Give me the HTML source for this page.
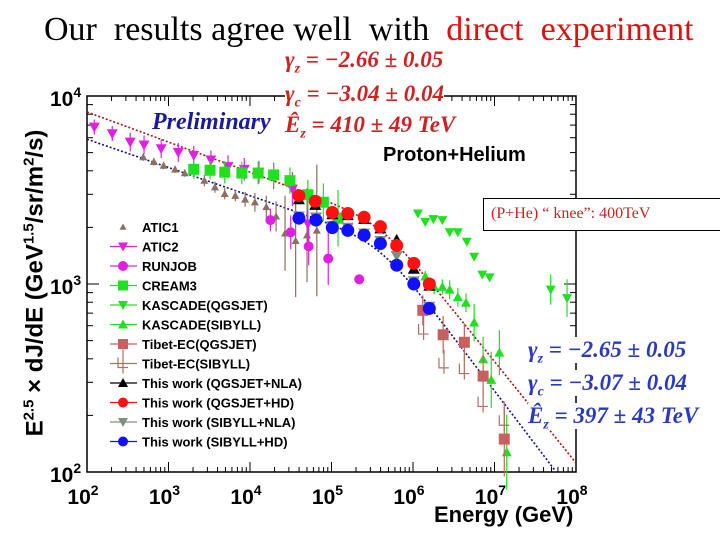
<!DOCTYPE html>
<html><head><meta charset="utf-8"><style>
body{margin:0;width:720px;height:540px;background:#fff;overflow:hidden;position:relative;font-family:"Liberation Sans",sans-serif}
.t{position:absolute;white-space:nowrap}
.f{position:absolute;white-space:nowrap;font:italic bold 23px 'Liberation Serif',serif;line-height:26px}
.f sub{font-size:14px;line-height:0}
</style></head><body>
<div class="t" style="left:44px;top:11px;font:34px 'Liberation Serif',serif;color:#000;line-height:38px">Our&nbsp; results agree well&nbsp; with&nbsp; <span style="color:#e01010">direct&nbsp; experiment</span></div>
<svg id="c" width="720" height="540" style="position:absolute;left:0;top:0"></svg>
<script>
// fit parameters
const fitRed = [-2.66, -3.04, 5.613, 3.915];
const fitBlue = [-2.65, -3.07, 5.599, 3.77];
// data (log10 E [GeV], log10 E^2.5 flux)
const atic1E = [2.69,2.82,2.94,3.08,3.20,3.44,3.57,3.69,3.82,3.94,4.06,4.20,4.32,4.43,4.56,4.70,4.82];
const atic1F = [3.675,3.65,3.63,3.61,3.59,3.55,3.515,3.48,3.47,3.45,3.435,3.41,3.36,3.27,3.23,3.26,3.285];
const atic1Err = [0.02,0.02,0.02,0.02,0.02,0.03,0.03,0.03,0.03,0.04,0.05,0.06,0.08,0.2,0.3,0.25,0.35];
const atic2E = [2.09,2.31,2.53,2.70,2.91,3.12,3.31,3.52,3.73,3.93,4.11,4.29,4.52,4.71];
const atic2F = [3.835,3.80,3.755,3.74,3.72,3.70,3.685,3.66,3.625,3.61,3.595,3.575,3.505,3.32];
const atic2Err = [0.04,0.04,0.05,0.05,0.05,0.05,0.05,0.05,0.06,0.06,0.06,0.07,0.09,0.12];
const runjobE = [4.25,4.50,4.72,4.96,5.34];
const runjobF = [3.34,3.275,3.20,3.135,3.025];
const runjobErr = [0.06,0.09,0.1,0.14,0];
const creamE = [3.31,3.51,3.69,3.90,4.10,4.29,4.49,4.71,4.90,5.08];
const creamF = [3.61,3.605,3.595,3.59,3.59,3.58,3.55,3.475,3.435,3.35];
const creamErr = [0.05,0.05,0.06,0.06,0.06,0.06,0.07,0.08,0.1,0.15];
const kqE = [6.06,6.15,6.25,6.36,6.45,6.55,6.66,6.75,6.85,6.94,7.69,7.89];
const kqF = [3.375,3.33,3.345,3.34,3.275,3.275,3.225,3.145,3.05,3.035,2.97,2.925];
const kqErr = [0,0,0,0,0,0,0,0,0,0,0.08,0.1];
const ksE = [6.15,6.26,6.36,6.45,6.55,6.65,6.75,6.86,6.96,7.06,7.15];
const ksF = [3.04,2.985,2.985,2.97,2.93,2.90,2.795,2.60,2.49,2.635,2.105];
const ksErr = [0.03,0.04,0.04,0.05,0.05,0.05,0.1,0.12,0.15,0.12,0.2];
const tqE = [6.12,6.37,6.63,6.86,7.12];
const tqF = [2.86,2.73,2.69,2.51,2.175];
const tqErr = [0.08,0.1,0.1,0.12,0.2];
const tsE = [6.13,6.38,6.63,6.86,7.12];
const tsF = [2.755,2.575,2.545,2.37,2.27];
const redE = [4.60,4.80,5.01,5.20,5.40,5.60,5.80,6.01,6.20];
const redF = [3.47,3.44,3.38,3.375,3.355,3.305,3.205,3.11,3.00];
const blackF = [3.45,3.42,3.37,3.365,3.345,3.295,3.235,3.08,2.99];
const blueE = [4.60,4.81,5.01,5.20,5.40,5.60,5.80,6.01,6.20];
const blueF = [3.35,3.34,3.30,3.285,3.26,3.215,3.10,3.00,2.87];
const greyF = [3.36,3.355,3.31,3.30,3.27,3.23,3.15,3.015,2.88];
const legendLabels = ["ATIC1","ATIC2","RUNJOB","CREAM3","KASCADE(QGSJET)","KASCADE(SIBYLL)","Tibet-EC(QGSJET)","Tibet-EC(SIBYLL)","This work (QGSJET+NLA)","This work (QGSJET+HD)","This work (SIBYLL+NLA)","This work (SIBYLL+HD)"];
const xTicks = [2,3,4,5,6,7,8];
const yTicks = [2,3,4];

const L=87,R=576,T=96,B=472;
const sx=v=>L+(v-2)/6*(R-L);
const sy=v=>B-(v-2)/2*(B-T);
const svg=document.getElementById('c');
const NS='http://www.w3.org/2000/svg';
function mk(tag,attrs,parent){const e=document.createElementNS(NS,tag);for(const k in attrs)e.setAttribute(k,attrs[k]);(parent||svg).appendChild(e);return e;}

const fr=mk('rect',{x:L,y:T,width:R-L,height:B-T,fill:'none',stroke:'#000','stroke-width':1.5});


for(let d=2;d<8;d++)for(let m=1;m<10;m++){const x=sx(d+Math.log10(m));const len=m==1?10:5;
 mk('line',{x1:x,x2:x,y1:B,y2:B-len,stroke:'#000'});mk('line',{x1:x,x2:x,y1:T,y2:T+len,stroke:'#000'});}
for(let d=2;d<4;d++)for(let m=1;m<10;m++){const y=sy(d+Math.log10(m));const len=m==1?12:6;
 mk('line',{x1:L,x2:L+len,y1:y,y2:y,stroke:'#000'});mk('line',{x1:R,x2:R-len,y1:y,y2:y,stroke:'#000'});}
xTicks.forEach(v=>{const t=mk('text',{x:sx(v)-4,y:504,'text-anchor':'middle','font-size':21,'font-weight':'bold','font-family':'Liberation Sans'});t.innerHTML='10<tspan dy="-9" font-size="14">'+v+'</tspan>';
 
 });
yTicks.forEach(v=>{const t=mk('text',{x:50,y:sy(v)+10,'font-size':21,'font-weight':'bold','font-family':'Liberation Sans'});t.innerHTML='10<tspan dy="-9" font-size="14">'+v+'</tspan>';
 
 });

function fitPath(p){let d='';for(let x=2;x<=8.001;x+=0.02){let f=p[3]+(p[0]+2.5)*(x-2)+(p[1]-p[0])/2*Math.log10(1+Math.pow(10,2*(x-p[2])))-(p[1]-p[0])/2*Math.log10(1+Math.pow(10,2*(2-p[2])));
 const y=sy(f);if(y>B)break;d+=(d?'L':'M')+sx(x).toFixed(1)+' '+y.toFixed(1);}return d;}
const fr1=mk('path',{d:fitPath(fitRed),fill:'none',stroke:'#b01010','stroke-width':1.6,'stroke-dasharray':'2 2'});


const fb1=mk('path',{d:fitPath(fitBlue),fill:'none',stroke:'#101080','stroke-width':1.6,'stroke-dasharray':'2 2'});



function marker(g,type,x,y,c,s){
 if(type=='up')mk('path',{d:`M${x} ${y-s}L${x+s} ${y+s*0.8}L${x-s} ${y+s*0.8}Z`,fill:c},g);
 else if(type=='down')mk('path',{d:`M${x} ${y+s}L${x+s} ${y-s*0.8}L${x-s} ${y-s*0.8}Z`,fill:c},g);
 else if(type=='circ')mk('circle',{cx:x,cy:y,r:s,fill:c},g);
 else if(type=='sq')mk('rect',{x:x-s,y:y-s,width:2*s,height:2*s,fill:c},g);
 else if(type=='open'){mk('path',{d:`M${x-5} ${y-6}L${x-5} ${y+4}L${x+5} ${y+4}M${x} ${y-14}L${x} ${y+10}`,fill:'none',stroke:c,'stroke-width':1.2},g);}
}
function series(name,E,F,err,type,c,s){const g=mk('g',{});
 E.forEach((e,i)=>{const x=sx(e),y=sy(F[i]);if(err&&err[i]){mk('line',{x1:x,x2:x,y1:sy(F[i]+err[i]),y2:sy(F[i]-err[i]),stroke:c,'stroke-width':1.2},g);}
 marker(g,type,x,y,c,s);});}
series('atic1-series',atic1E,atic1F,atic1Err,'up','#8a7060',4);
series('atic2-series',atic2E,atic2F,atic2Err,'down','#e020e0',5.5);
series('runjob-series',runjobE,runjobF,runjobErr,'circ','#e020e0',5);
series('cream3-series',creamE,creamF,creamErr,'sq','#20e020',5.5);
series('kascade-qgsjet-series',kqE,kqF,kqErr,'down','#20e020',5);
series('kascade-sibyll-series',ksE,ksF,ksErr,'up','#20e020',5);
series('tibet-qgsjet-series',tqE,tqF,tqErr,'sq','#c86060',5.5);
series('tibet-sibyll-series',tsE,tsF,null,'open','#b07060',5);
series('qgsjet-nla-series',redE,blackF,null,'up','#000',6);
series('sibyll-nla-series',blueE,greyF,null,'down','#809080',6);
series('qgsjet-hd-series',redE,redF,null,'circ','#ff1010',6.5);
series('sibyll-hd-series',blueE,blueF,null,'circ','#1010ff',6.5);

const legTypes=['up','down','circ','sq','down','up','sq','open','up','circ','down','circ'];
const legCols=['#8a7060','#e020e0','#e020e0','#20e020','#20e020','#20e020','#c86060','#b07060','#000','#ff1010','#809080','#1010ff'];
legendLabels.forEach((lab,i)=>{const y=227+i*19.5;const g=mk('g',{});
 
 
 if(i>0)mk('line',{x1:110,x2:137,y1:y,y2:y,stroke:legCols[i],'stroke-width':1.2},g);
 marker(g,legTypes[i],123,y,legCols[i],i==0?3.5:5);
 const t=mk('text',{x:142,y:y+5,'font-size':13,'font-weight':'bold','font-family':'Liberation Sans'},g);t.textContent=lab;});
</script>
<div class="t" style="left:35px;top:283px;transform:translate(-50%,-50%) rotate(-90deg);font:bold 24px 'Liberation Sans',sans-serif">E<sup style="font-size:15px">2.5</sup> × dJ/dE (GeV<sup style="font-size:15px">1.5</sup>/sr/m<sup style="font-size:15px">2</sup>/s)</div>
<div class="t" style="left:434px;top:502px;font:bold 22px 'Liberation Sans',sans-serif">Energy (GeV)</div>
<div class="t" style="left:152px;top:109px;font:italic bold 24px 'Liberation Serif',serif;color:#1a1aa0">Preliminary</div>
<div class="t" style="left:383px;top:144px;font:bold 20px 'Liberation Sans',sans-serif">Proton+Helium</div>
<div class="f" style="left:285px;top:47px;color:#d02020">γ<sub>z</sub> = −2.66 ± 0.05</div>
<div class="f" style="left:285px;top:81px;color:#d02020;background:#fff">γ<sub>c</sub> = −3.04 ± 0.04</div>
<div class="f" style="left:285px;top:112px;color:#d02020">Ê<sub>z</sub> = 410 ± 49 TeV</div>
<div style="position:absolute;left:483px;top:198px;width:240px;height:33px;border:1px solid #000;background:#fff;box-sizing:border-box;font:16px 'Liberation Serif',serif;color:#d02020;padding:6px 0 0 7px;white-space:nowrap">(P+He) “ knee”: 400TeV</div>
<div class="f" style="left:528px;top:337px;color:#2a3ac0;background:#fff">γ<sub>z</sub> = −2.65 ± 0.05</div>
<div class="f" style="left:528px;top:370px;color:#2a3ac0;background:#fff">γ<sub>c</sub> = −3.07 ± 0.04</div>
<div class="f" style="left:528px;top:403px;color:#2a3ac0;background:#fff">Ê<sub>z</sub> = 397 ± 43 TeV</div>
</body></html>
